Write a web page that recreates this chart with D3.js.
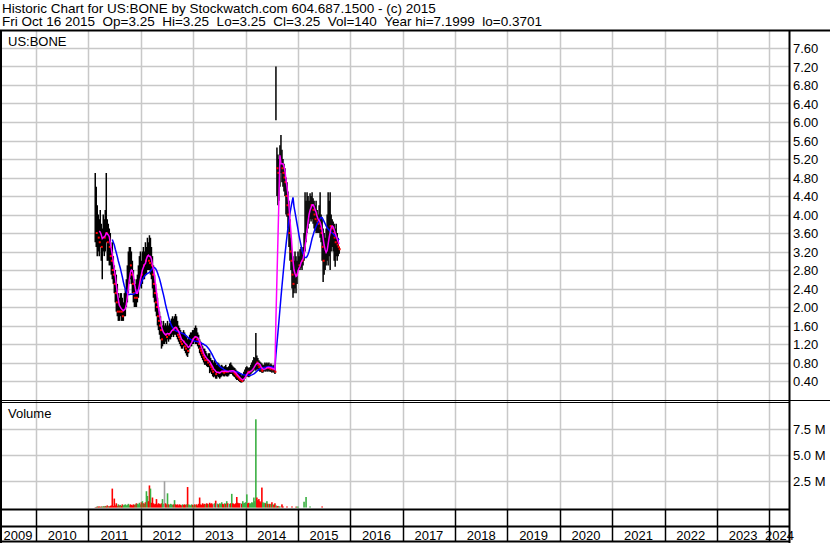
<!DOCTYPE html>
<html>
<head>
<meta charset="utf-8">
<script src="https://cdn.jsdelivr.net/npm/d3@7"></script>
<style>
  body { margin: 0; background: #fff; }
  svg { display: block; font-family: "Liberation Sans", Arial, sans-serif; }
</style>
</head>
<body>
<div id="chart"></div>
<script>
// weekly bars for US:BONE, the last one is Fri Oct 16 2015
var lastDate = "2015-10-16";

var hi = [
  4.9,4.6,4.2,4.0,3.9,4.1,3.8,3.7,4.0,3.9, 4.1,4.9,3.9,3.8,3.7,3.6,3.3,3.4,3.1,2.9,
  2.8,2.7,2.5,2.3,2.2,2.3,2.3,2.2,2.1,2.3, 2.4,2.6,2.9,3.2,3.3,3.3,3.2,3.0,2.8,2.6,
  2.5,2.6,2.7,2.9,3.1,3.2,3.0,3.2,3.3,3.2, 3.4,3.3,3.5,3.4,3.55,3.5,3.3,3.1,2.9,2.7,
  2.5,2.3,2.2,2.0,1.9,1.8,1.7,1.6,1.7,1.6, 1.65,1.6,1.7,1.6,1.65,1.7,1.75,1.8,1.75,1.8,
  1.85,1.8,1.7,1.6,1.55,1.5,1.45,1.45,1.5,1.45, 1.4,1.35,1.3,1.35,1.4,1.45,1.45,1.5,1.5,1.55,
  1.6,1.55,1.45,1.4,1.3,1.25,1.2,1.15,1.1,1.1, 1.05,1.0,0.95,1.0,1.0,0.9,0.85,0.85,0.8,0.85,
  0.8,0.75,0.8,0.78,0.75,0.72,0.75,0.72,0.7,0.72, 0.75,0.7,0.7,0.72,0.78,0.8,0.75,0.72,0.7,0.68,
  0.65,0.62,0.6,0.58,0.55,0.55,0.52,0.55,0.6,0.65, 0.7,0.72,0.7,0.68,0.7,0.75,0.8,0.85,0.92,0.9,
  1.44,0.95,0.9,0.85,0.82,0.8,0.78,0.75,0.75,0.8, 0.78,0.8,0.78,0.8,0.75,0.78,0.75,0.72,0.75,0.7,
  7.2,5.45,5.3,5.2,5.5,5.72,5.4,5.2,5.1,5.0, 4.8,4.7,4.5,4.3,3.9,3.5,3.2,3.1,3.0,3.2,
  3.1,3.0,3.2,3.1,3.25,3.3,3.2,3.3,3.6,4.48, 4.3,4.48,4.4,4.3,4.46,4.4,4.48,4.35,4.3,4.2,
  4.3,4.1,4.0,4.2,4.48,4.0,3.9,3.7,3.6,3.5, 3.7,4.0,4.48,4.3,4.48,4.0,3.9,3.85,3.8,3.7,
  3.8,3.6,3.5,3.3
];
var lo = [
  3.4,3.3,3.1,3.2,3.1,3.3,3.0,2.6,3.2,3.1, 3.2,3.4,3.0,3.0,2.9,2.9,2.7,2.6,2.5,2.3,
  2.1,1.9,1.8,1.7,1.7,1.8,1.7,1.7,1.7,1.8, 1.8,2.0,2.1,2.3,2.5,2.6,2.5,2.3,2.1,2.0,
  2.0,2.0,2.1,2.2,2.4,2.5,2.4,2.5,2.6,2.6, 2.7,2.7,2.8,2.8,2.8,2.7,2.6,2.4,2.2,2.1,
  1.9,1.8,1.6,1.5,1.4,1.3,1.1,1.15,1.2,1.2, 1.25,1.2,1.3,1.25,1.3,1.3,1.35,1.4,1.35,1.4,
  1.4,1.35,1.3,1.25,1.2,1.15,1.1,1.1,1.15,1.05, 1.0,0.95,0.92,1.0,1.1,1.15,1.15,1.2,1.2,1.25,
  1.2,1.2,1.15,1.1,1.0,0.95,0.9,0.85,0.8,0.75, 0.75,0.72,0.7,0.7,0.57,0.6,0.55,0.5,0.48,0.5,
  0.45,0.45,0.5,0.48,0.45,0.48,0.5,0.52,0.5,0.5, 0.52,0.5,0.5,0.52,0.55,0.55,0.55,0.52,0.5,0.48,
  0.45,0.42,0.42,0.4,0.38,0.37,0.37,0.38,0.4,0.45, 0.5,0.5,0.5,0.48,0.5,0.55,0.58,0.6,0.62,0.65,
  0.62,0.65,0.65,0.62,0.6,0.6,0.58,0.58,0.6,0.62, 0.6,0.62,0.6,0.62,0.6,0.6,0.58,0.6,0.58,0.55,
  6.04,4.4,4.2,4.3,4.6,4.9,4.7,4.6,4.5,4.4, 4.0,3.95,3.7,3.3,3.0,2.8,2.4,2.2,2.3,2.4,
  2.3,2.5,2.8,2.8,2.8,2.85,2.8,2.9,3.0,3.2, 3.4,3.6,3.7,3.8,3.9,3.85,3.9,3.8,3.7,3.65,
  3.6,3.6,3.6,3.6,3.5,3.4,3.0,2.54,2.7,2.8, 2.9,3.0,2.9,3.1,2.8,3.2,3.3,3.2,3.0,2.87,
  3.1,3.0,3.1,3.15
];
var cl = [
  3.8,3.6,3.9,3.5,3.4,3.7,3.3,3.5,3.6,3.5, 3.8,3.6,3.4,3.5,3.3,3.1,3.0,2.8,2.7,2.5,
  2.3,2.1,1.9,2.0,1.9,2.1,1.9,1.8,1.9,2.0, 2.2,2.4,2.6,2.8,3.0,2.9,2.7,2.5,2.3,2.2,
  2.3,2.2,2.5,2.6,2.8,2.9,2.7,3.0,2.9,3.1, 3.0,3.2,3.3,3.0,2.95,3.0,2.9,2.7,2.5,2.3,
  2.1,2.0,1.8,1.7,1.6,1.5,1.3,1.4,1.45,1.45, 1.4,1.35,1.5,1.4,1.45,1.5,1.55,1.6,1.5,1.6,
  1.55,1.5,1.4,1.35,1.3,1.25,1.2,1.3,1.25,1.15, 1.1,1.15,1.05,1.2,1.25,1.3,1.35,1.3,1.4,1.35,
  1.4,1.3,1.25,1.2,1.1,1.05,1.0,0.95,0.9,0.85, 0.9,0.85,0.8,0.82,0.75,0.7,0.65,0.6,0.6,0.65,
  0.55,0.55,0.6,0.58,0.6,0.62,0.65,0.6,0.58,0.62, 0.6,0.62,0.6,0.6,0.65,0.6,0.66,0.6,0.58,0.55,
  0.52,0.5,0.48,0.45,0.42,0.42,0.4,0.45,0.5,0.55, 0.6,0.62,0.6,0.58,0.6,0.65,0.7,0.72,0.75,0.78,
  0.85,0.8,0.75,0.7,0.68,0.65,0.62,0.65,0.68,0.7, 0.68,0.72,0.68,0.7,0.66,0.68,0.65,0.66,0.65,0.6,
  6.2,5.0,4.9,5.1,5.2,5.3,5.0,4.9,4.8,4.7, 4.4,4.2,4.0,3.6,3.2,3.0,2.7,2.5,2.6,2.8,
  2.7,2.8,3.0,2.9,3.0,3.1,3.0,3.2,3.4,3.8, 3.9,4.0,4.1,4.2,4.25,4.2,4.3,4.1,4.0,3.9,
  3.95,3.85,3.8,3.85,3.7,3.6,3.3,3.0,3.1,3.2, 3.3,3.5,3.7,3.8,3.75,3.8,3.7,3.6,3.5,3.4,
  3.5,3.35,3.3,3.25
];
// volume in millions of shares
var vol = [
  0.05,0.05,0.1,0.08,0.1,0.06,0.1,0.08,0.12,0.1, 0.15,0.1,0.2,0.12,0.1,0.15,0.2,1.8,0.15,0.85,
  0.2,0.4,0.15,0.3,0.2,0.25,0.15,0.3,0.2,0.25, 0.3,0.2,0.25,0.35,0.2,0.3,0.25,0.2,0.3,0.25,
  0.3,0.4,0.35,0.3,0.45,0.3,0.5,0.6,0.4,0.35, 0.5,1.55,1.1,0.6,2.1,1.8,0.45,0.95,0.4,0.3,
  0.35,0.8,0.3,0.4,0.35,0.3,0.4,0.8,0.35,2.5, 0.4,0.3,1.35,0.3,0.25,0.35,0.3,0.25,0.3,0.7,
  0.3,0.25,0.3,0.2,0.3,0.25,0.2,0.3,0.25,0.3, 0.25,0.3,1.95,0.3,0.25,0.2,0.3,0.25,0.2,0.3,
  0.25,0.3,0.2,0.35,0.95,0.3,0.25,0.4,0.3,0.35, 0.3,0.4,0.35,0.3,0.45,0.35,0.4,0.3,0.35,0.4,
  0.65,0.4,0.35,0.3,0.4,0.35,0.5,0.35,0.3,0.4, 0.35,0.6,0.4,0.3,0.35,0.4,1.3,0.4,0.35,0.3,
  0.4,1.0,0.45,0.4,0.4,0.4,0.35,0.6,0.4,0.45, 0.5,1.25,0.4,0.45,0.35,0.4,0.5,0.45,0.95,0.6,
  8.4,0.95,0.7,0.8,0.6,0.5,1.9,0.5,0.4,0.45, 0.4,0.6,0.35,0.3,0.35,0.3,0.5,0.3,0.25,0.4,
  0.2,0.1,0.15,0.1,0.1,0,0.3,0.1,0,0, 0,0.1,0,0,0,0,0.1,0,0,0,
  0.08,0.08,0.08,0,0,0,0,0,0.55,0, 1.0,0,0,0,0.1,0,0,0,0,0,
  0,0,0,0,0,0,0.1,0,0,0, 0,0,0,0,0,0,0,0,0,0,
  0,0,0,0
];

var priceTicks = [0.4,0.8,1.2,1.6,2.0,2.4,2.8,3.2,3.6,4.0,4.4,4.8,5.2,5.6,6.0,6.4,6.8,7.2,7.6];
var volTicks = [2.5, 5.0, 7.5];
var years = [2009,2010,2011,2012,2013,2014,2015,2016,2017,2018,2019,2020,2021,2022,2023,2024];

var headerLine1 = "Historic Chart for US:BONE by Stockwatch.com 604.687.1500 - (c) 2015";
var headerLine2 = "Fri Oct 16 2015  Op=3.25  Hi=3.25  Lo=3.25  Cl=3.25  Vol=140  Year hi=7.1999  lo=0.3701";

var W = 830, H = 543;
var axisX = 789.5;
var svg = d3.select("#chart").append("svg").attr("width", W).attr("height", H);

var n = cl.length;
var end = d3.timeParse("%Y-%m-%d")(lastDate);
var dates = cl.map(function (d, i) {
  return d3.timeDay.offset(end, -7 * (n - 1 - i));
});

var x = d3.scaleTime()
  .domain([new Date(2010, 0, 1), new Date(2024, 0, 1)])
  .range([36, 769.3]);
var y = d3.scaleLinear().domain([0, 8]).range([399.5, 29.5]);
var yv = d3.scaleLinear().domain([0, 10]).range([507.5, 402.5]);

var gridColor = "#c8c8c8";

//grid
var grid = svg.append("g").attr("stroke", gridColor).attr("stroke-width", 1.5);
grid.selectAll(".hp")
  .data(priceTicks)
  .enter()
  .append("line")
  .attr("x1", 2).attr("x2", axisX)
  .attr("y1", function (d) { return Math.round(y(d)) + 0.5; })
  .attr("y2", function (d) { return Math.round(y(d)) + 0.5; });
grid.selectAll(".hv")
  .data(volTicks)
  .enter()
  .append("line")
  .attr("x1", 2).attr("x2", axisX)
  .attr("y1", function (d) { return Math.round(yv(d)) + 0.5; })
  .attr("y2", function (d) { return Math.round(yv(d)) + 0.5; });
grid.selectAll(".vy")
  .data(years.slice(1))
  .enter()
  .append("line")
  .attr("x1", function (d) { return Math.round(x(new Date(d, 0, 1))) + 0.5; })
  .attr("x2", function (d) { return Math.round(x(new Date(d, 0, 1))) + 0.5; })
  .attr("y1", 31).attr("y2", 509);

//price bars
svg.append("clipPath").attr("id", "pclip")
  .append("rect").attr("x", 2).attr("y", 31).attr("width", axisX - 3).attr("height", 369);
var price = svg.append("g").attr("clip-path", "url(#pclip)");

var bars = dates.map(function (d, i) {
  return { date: d, hi: hi[i], lo: lo[i], cl: cl[i], vol: vol[i], prev: i > 0 ? cl[i - 1] : cl[i] };
});

price.selectAll(".bar")
  .data(bars)
  .enter()
  .append("line")
  .attr("x1", function (d) { return x(d.date); })
  .attr("x2", function (d) { return x(d.date); })
  .attr("y1", function (d) { return y(d.hi); })
  .attr("y2", function (d) { return y(d.lo); })
  .attr("stroke", "#000")
  .attr("stroke-width", 1.5);

price.selectAll(".tick-cl")
  .data(bars.filter(function (d) { return d.cl < d.prev; }))
  .enter()
  .append("rect")
  .attr("x", function (d) { return x(d.date) - 0.5; })
  .attr("y", function (d) { return y(d.cl) - 1; })
  .attr("width", 2)
  .attr("height", 2)
  .attr("fill", "#ff0000");

//moving averages of the closes
function sma(period) {
  var out = [];
  for (var i = period - 1; i < n; i++) {
    out.push({ date: dates[i], v: d3.mean(cl.slice(i - period + 1, i + 1)) });
  }
  return out;
}
var maLine = d3.line()
  .x(function (d) { return x(d.date); })
  .y(function (d) { return y(d.v); });

price.append("path")
  .datum(sma(18))
  .attr("d", maLine)
  .attr("fill", "none")
  .attr("stroke", "#0000ff")
  .attr("stroke-width", 1.5);
price.append("path")
  .datum(sma(5))
  .attr("d", maLine)
  .attr("fill", "none")
  .attr("stroke", "#ff00ff")
  .attr("stroke-width", 1.5);

//volume
svg.append("g")
  .selectAll("rect")
  .data(bars.filter(function (d) { return d.vol > 0; }))
  .enter()
  .append("rect")
  .attr("x", function (d) { return x(d.date) - 0.8; })
  .attr("y", function (d) { return yv(d.vol); })
  .attr("width", 1.6)
  .attr("height", function (d) { return yv(0) - yv(d.vol); })
  .attr("fill", function (d) {
    if (d.cl > d.prev) return "#3cb043";
    if (d.cl < d.prev) return "#ff0000";
    return "#a0a0a0";
  });

//frame
var frame = svg.append("g").attr("stroke", "#000");
function hline(yy, x1, x2, w) {
  frame.append("line").attr("x1", x1).attr("x2", x2).attr("y1", yy).attr("y2", yy).attr("stroke-width", w);
}
function vline(xx, y1, y2, w) {
  frame.append("line").attr("x1", xx).attr("x2", xx).attr("y1", y1).attr("y2", y2).attr("stroke-width", w);
}
hline(30.5, 0, W, 2);
hline(400.5, 0, W, 1);
hline(402.5, 0, axisX, 1);
hline(509.5, 0, axisX, 2);
hline(526.5, 0, axisX, 2);
hline(541.5, 0, axisX, 2);
vline(1, 30, H, 2);
vline(axisX, 30, H, 2);
years.slice(1).forEach(function (yr) {
  var xx = Math.round(x(new Date(yr, 0, 1))) + 0.5;
  vline(xx, 509, 542, 1.5);
});

//texts
var txt = svg.append("g").attr("font-size", "13px").attr("fill", "#000");
txt.append("text").attr("x", 2).attr("y", 12.5).attr("font-size", "13.5px")
  .style("white-space", "pre").text(headerLine1);
txt.append("text").attr("x", 2).attr("y", 26).attr("font-size", "13.5px")
  .style("white-space", "pre").text(headerLine2);
txt.append("text").attr("x", 8).attr("y", 46).text("US:BONE");
txt.append("text").attr("x", 8).attr("y", 418).text("Volume");

txt.selectAll(".pl")
  .data(priceTicks)
  .enter()
  .append("text")
  .attr("x", 793)
  .attr("y", function (d) { return y(d) + 5; })
  .text(function (d) { return d3.format(".2f")(d); });

txt.selectAll(".vl")
  .data(volTicks)
  .enter()
  .append("text")
  .attr("x", 793)
  .attr("y", function (d) { return yv(d) + 5; })
  .text(function (d) { return d3.format(".1f")(d) + " M"; });

txt.selectAll(".yl")
  .data(years)
  .enter()
  .append("text")
  .attr("text-anchor", "middle")
  .attr("x", function (d) {
    var a = Math.max(0, x(new Date(d, 0, 1)));
    var b = Math.min(axisX, x(new Date(d + 1, 0, 1)));
    return (a + b) / 2;
  })
  .attr("y", 540)
  .text(function (d) { return d; });
</script>
</body>
</html>
